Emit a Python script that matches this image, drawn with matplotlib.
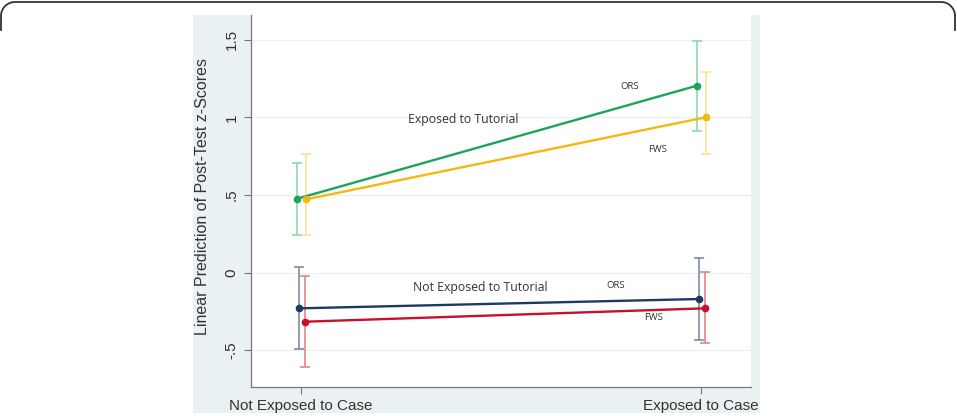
import numpy as np
import matplotlib
matplotlib.use('Agg')
import matplotlib.pyplot as plt
from matplotlib.patches import Rectangle
from matplotlib.lines import Line2D

plt.rcParams['font.family'] = ['Liberation Sans', 'DejaVu Sans']

# data
x_cats = ['Not Exposed to Case', 'Exposed to Case']
x_pos = [0, 1]

ors_tut = [0.476, 1.203]
ors_tut_lo = [0.241, 0.912]
ors_tut_hi = [0.708, 1.493]

fws_tut = [0.472, 1.000]
fws_tut_lo = [0.241, 0.764]
fws_tut_hi = [0.764, 1.292]

ors_not = [-0.229, -0.169]
ors_not_lo = [-0.491, -0.433]
ors_not_hi = [0.035, 0.092]

fws_not = [-0.315, -0.229]
fws_not_lo = [-0.605, -0.454]
fws_not_hi = [-0.021, 0.007]

yticks = [-0.5, 0, 0.5, 1, 1.5]
ytick_labels = ['-.5', '0', '.5', '1', '1.5']

series = [
    (ors_tut, ors_tut_lo, ors_tut_hi, '#1aa55a', '#86d6aa', -0.01),
    (fws_tut, fws_tut_lo, fws_tut_hi, '#f5b80f', '#fbe28e', 0.0125),
    (ors_not, ors_not_lo, ors_not_hi, '#1f3a60', '#7482a0', -0.005),
    (fws_not, fws_not_lo, fws_not_hi, '#c8102e', '#e27a80', 0.01),
]

fig = plt.figure(figsize=(9.57, 4.16), dpi=100)

# light panel behind the graph
fig.add_artist(Rectangle((193 / 957, 3 / 416), 567 / 957, 398 / 416,
                         transform=fig.transFigure, facecolor='#eaf1f2',
                         edgecolor='none', zorder=0))

# rounded top border of the frame
W, H = 957, 416
r = 14
t1 = np.linspace(np.pi, np.pi / 2, 20)
t2 = np.linspace(np.pi / 2, 0, 20)
bx = np.concatenate([[1], 1 + r + r * np.cos(t1), W - 2 - r + r * np.cos(t2), [W - 2]])
by = np.concatenate([[30], 2 + r - r * np.sin(t1), 2 + r - r * np.sin(t2), [30]])
fig.add_artist(Line2D(bx / W, 1 - by / H, transform=fig.transFigure,
                      color='#333333', lw=1.3))

ax = fig.add_axes([251 / 957, 29 / 416, 499.7 / 957, 372 / 416])
ax.set_facecolor('white')
ax.set_zorder(1)

for y, lo, hi, c, cl, off in series:
    xs = np.array(x_pos) + off
    yv = np.array(y)
    ax.errorbar(xs, yv, yerr=[yv - np.array(lo), np.array(hi) - yv], fmt='none',
                ecolor=cl, elinewidth=1.1, capsize=3.6, capthick=1.1, zorder=2)
    ax.plot(xs, yv, color=c, lw=1.7, marker='o', ms=4.5, zorder=3)

ax.set_xlim(-0.125, 1.125)
ax.set_ylim(-0.735, 1.658)
ax.set_xticks(x_pos)
ax.set_xticklabels(x_cats, fontsize=11, color='#333333')
ax.set_yticks(yticks)
ax.set_yticklabels(ytick_labels, rotation=90, va='center', fontsize=11, color='#333333')
ax.tick_params(axis='both', color='#777777', length=5, width=0.8)
ax.tick_params(axis='y', pad=4)
ax.grid(axis='y', color='#eeeeee', lw=0.8, zorder=0)
ax.set_axisbelow(True)
for s in ['top', 'right']:
    ax.spines[s].set_visible(False)
for s in ['left', 'bottom']:
    ax.spines[s].set_color('#777777')
    ax.spines[s].set_linewidth(0.9)
ax.set_ylabel('Linear Prediction of Post-Test z-Scores', fontsize=11.5, color='#333333')
ax.yaxis.set_label_coords(-0.083, 0.512)

lab = dict(family=['Open Sans', 'DejaVu Sans'], color='#333333', ha='center', va='center',
           zorder=4, fontweight='medium')
ax.text(0.407, 0.983, 'Exposed to Tutorial', fontsize=8.8, **lab)
ax.text(0.448, -0.094, 'Not Exposed to Tutorial', fontsize=8.8, **lab)
ax.text(0.822, 1.201, 'ORS', fontsize=6.8, **lab)
ax.text(0.8925, 0.794, 'FWS', fontsize=6.8, **lab)
ax.text(0.788, -0.084, 'ORS', fontsize=6.8, **lab)
ax.text(0.8815, -0.287, 'FWS', fontsize=6.8, **lab)

fig.savefig('out.png', dpi=100)
